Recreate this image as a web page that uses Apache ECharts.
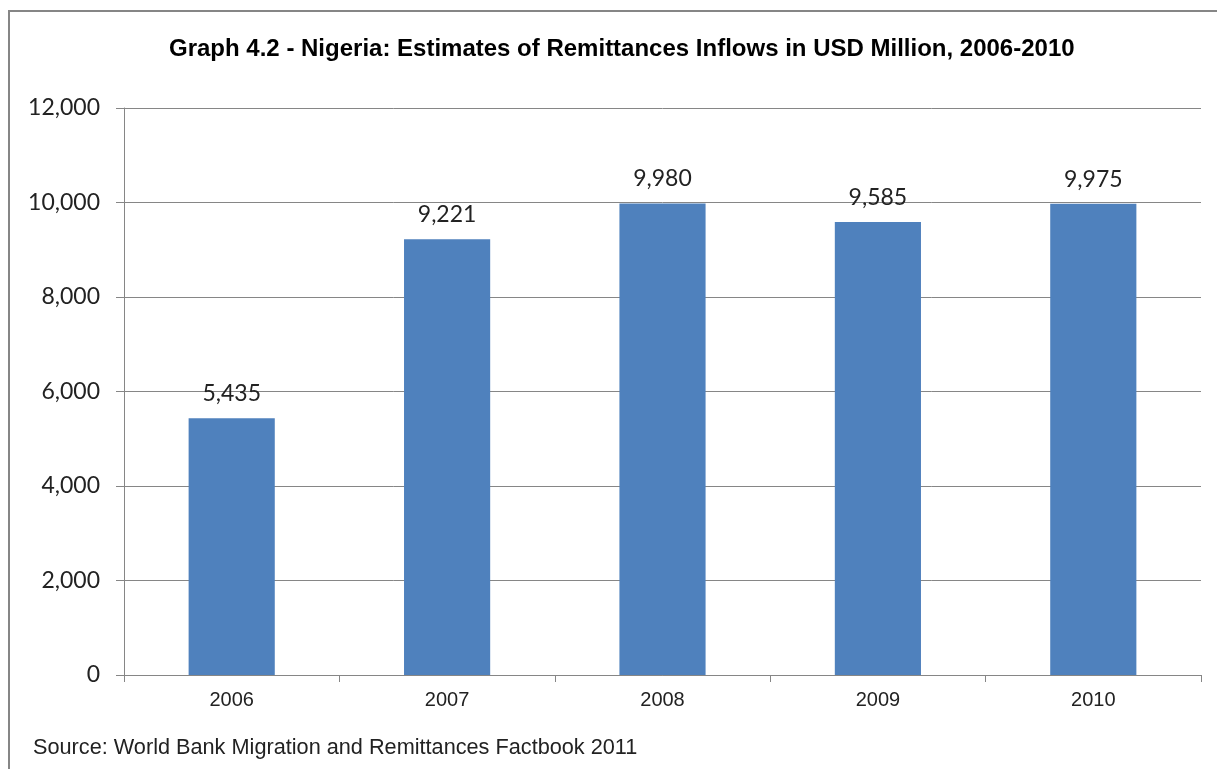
<!DOCTYPE html>
<html>
<head>
<meta charset="utf-8">
<script src="https://cdn.jsdelivr.net/npm/echarts@6/dist/echarts.min.js"></script>
<style>
  html, body { margin: 0; padding: 0; background: #ffffff; }
  #chart { width: 1217px; height: 769px; }
</style>
</head>
<body>
<div id="chart"></div>
<script>
// Remittance inflows to Nigeria, USD million
const years = ['2006', '2007', '2008', '2009', '2010'];
const inflows = [5435, 9221, 9980, 9585, 9975];
const yTicks = [0, 2000, 4000, 6000, 8000, 10000, 12000];

const chart = echarts.init(document.getElementById('chart'), null, { renderer: 'canvas' });

const fmt = v => v.toLocaleString('en-US');

chart.setOption({
  animation: false,
  backgroundColor: '#ffffff',
  title: {
    text: 'Graph 4.2 - Nigeria: Estimates of Remittances Inflows in USD Million, 2006-2010',
    left: 164,
    top: 32,
    textStyle: {
      fontFamily: 'Liberation Sans',
      fontWeight: 'bold',
      fontSize: 24,
      color: '#000000'
    }
  },
  grid: { left: 124, right: 16, top: 108, bottom: 94, containLabel: false },
  xAxis: {
    type: 'category',
    data: years,
    axisLine: { lineStyle: { color: '#868686', width: 1 } },
    axisTick: { show: true, length: 7, alignWithLabel: false, lineStyle: { color: '#868686' } },
    axisLabel: { margin: 15, fontFamily: 'Liberation Sans', fontSize: 20, color: '#222222' },
    splitLine: { show: false }
  },
  yAxis: {
    type: 'value',
    min: yTicks[0],
    max: yTicks[yTicks.length - 1],
    interval: 2000,
    axisLine: { show: true, lineStyle: { color: '#868686', width: 1 } },
    axisTick: { show: true, length: 8, lineStyle: { color: '#868686' } },
    axisLabel: {
      margin: 24,
      fontFamily: 'Lato',
      fontSize: 23,
      color: '#222222',
      formatter: fmt
    },
    splitLine: { show: true, lineStyle: { color: '#868686', width: 1 } }
  },
  series: [{
    type: 'bar',
    data: inflows,
    barWidth: '40%',
    itemStyle: { color: '#4F81BD' },
    label: {
      show: true,
      position: 'top',
      distance: 13,
      fontFamily: 'Lato',
      fontSize: 23,
      color: '#222222',
      formatter: p => fmt(p.value)
    }
  }],
  graphic: [
    {
      type: 'rect',
      shape: { x: 9, y: 11, width: 1230, height: 800 },
      style: { fill: 'none', stroke: '#868686', lineWidth: 2 },
      silent: true
    },
    {
      type: 'text',
      left: 33,
      top: 737,
      style: {
        text: 'Source: World Bank Migration and Remittances Factbook 2011',
        fontFamily: 'Liberation Sans',
        fontSize: 21.7,
        fill: '#222222'
      }
    }
  ]
});
</script>
</body>
</html>
